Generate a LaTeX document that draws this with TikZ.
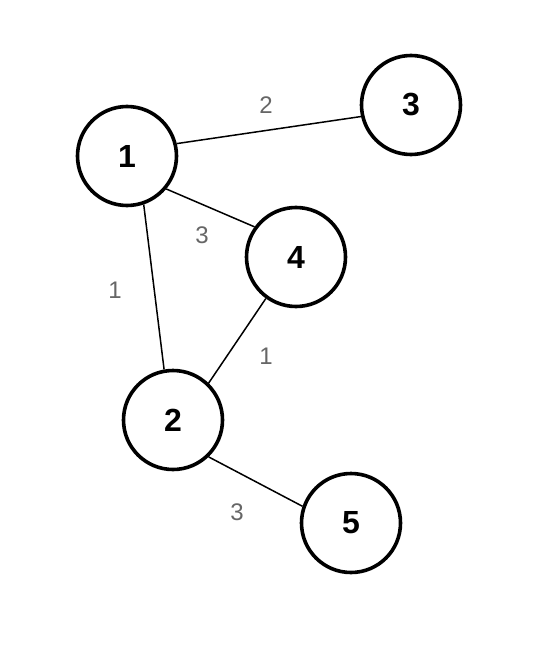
\documentclass[tikz,border=0pt]{standalone}
\usepackage{fontspec}
\setmainfont{Liberation Sans}
\usepackage{tikz}
\usetikzlibrary{positioning}

\begin{document}
\begin{tikzpicture}[
x=1pt, y=-1pt,
vertex/.style={draw, circle, line width=3.6pt, minimum size=99pt, inner sep=0pt, font=\fontsize{32}{32}\selectfont\bfseries},
edge/.style={line width=1.5pt},
weight/.style={text=black!60, font=\fontsize{24}{24}\selectfont}
]
\useasboundingbox (0,0) rectangle (550,650);

\node[vertex] (v1) at (127,156) {1};
\node[vertex] (v3) at (411,105) {3};
\node[vertex] (v4) at (296,257) {4};
\node[vertex] (v2) at (173,420) {2};
\node[vertex] (v5) at (351,523) {5};

\draw[edge] (v1.14) -- (v3.193);
\draw[edge] (v1.-40) -- (v4.144);
\draw[edge] (v1.-71) -- (v2.100);
\draw[edge] (v4.234) -- (v2.46);
\draw[edge] (v2.-46) -- (v5.161);

\node[weight] (w13) at (266,105) {2};
\node[weight] (w14) at (202,235) {3};
\node[weight] (w12) at (115,290) {1};
\node[weight] (w24) at (266,356) {1};
\node[weight] (w25) at (237,512) {3};

\end{tikzpicture}
\end{document}
